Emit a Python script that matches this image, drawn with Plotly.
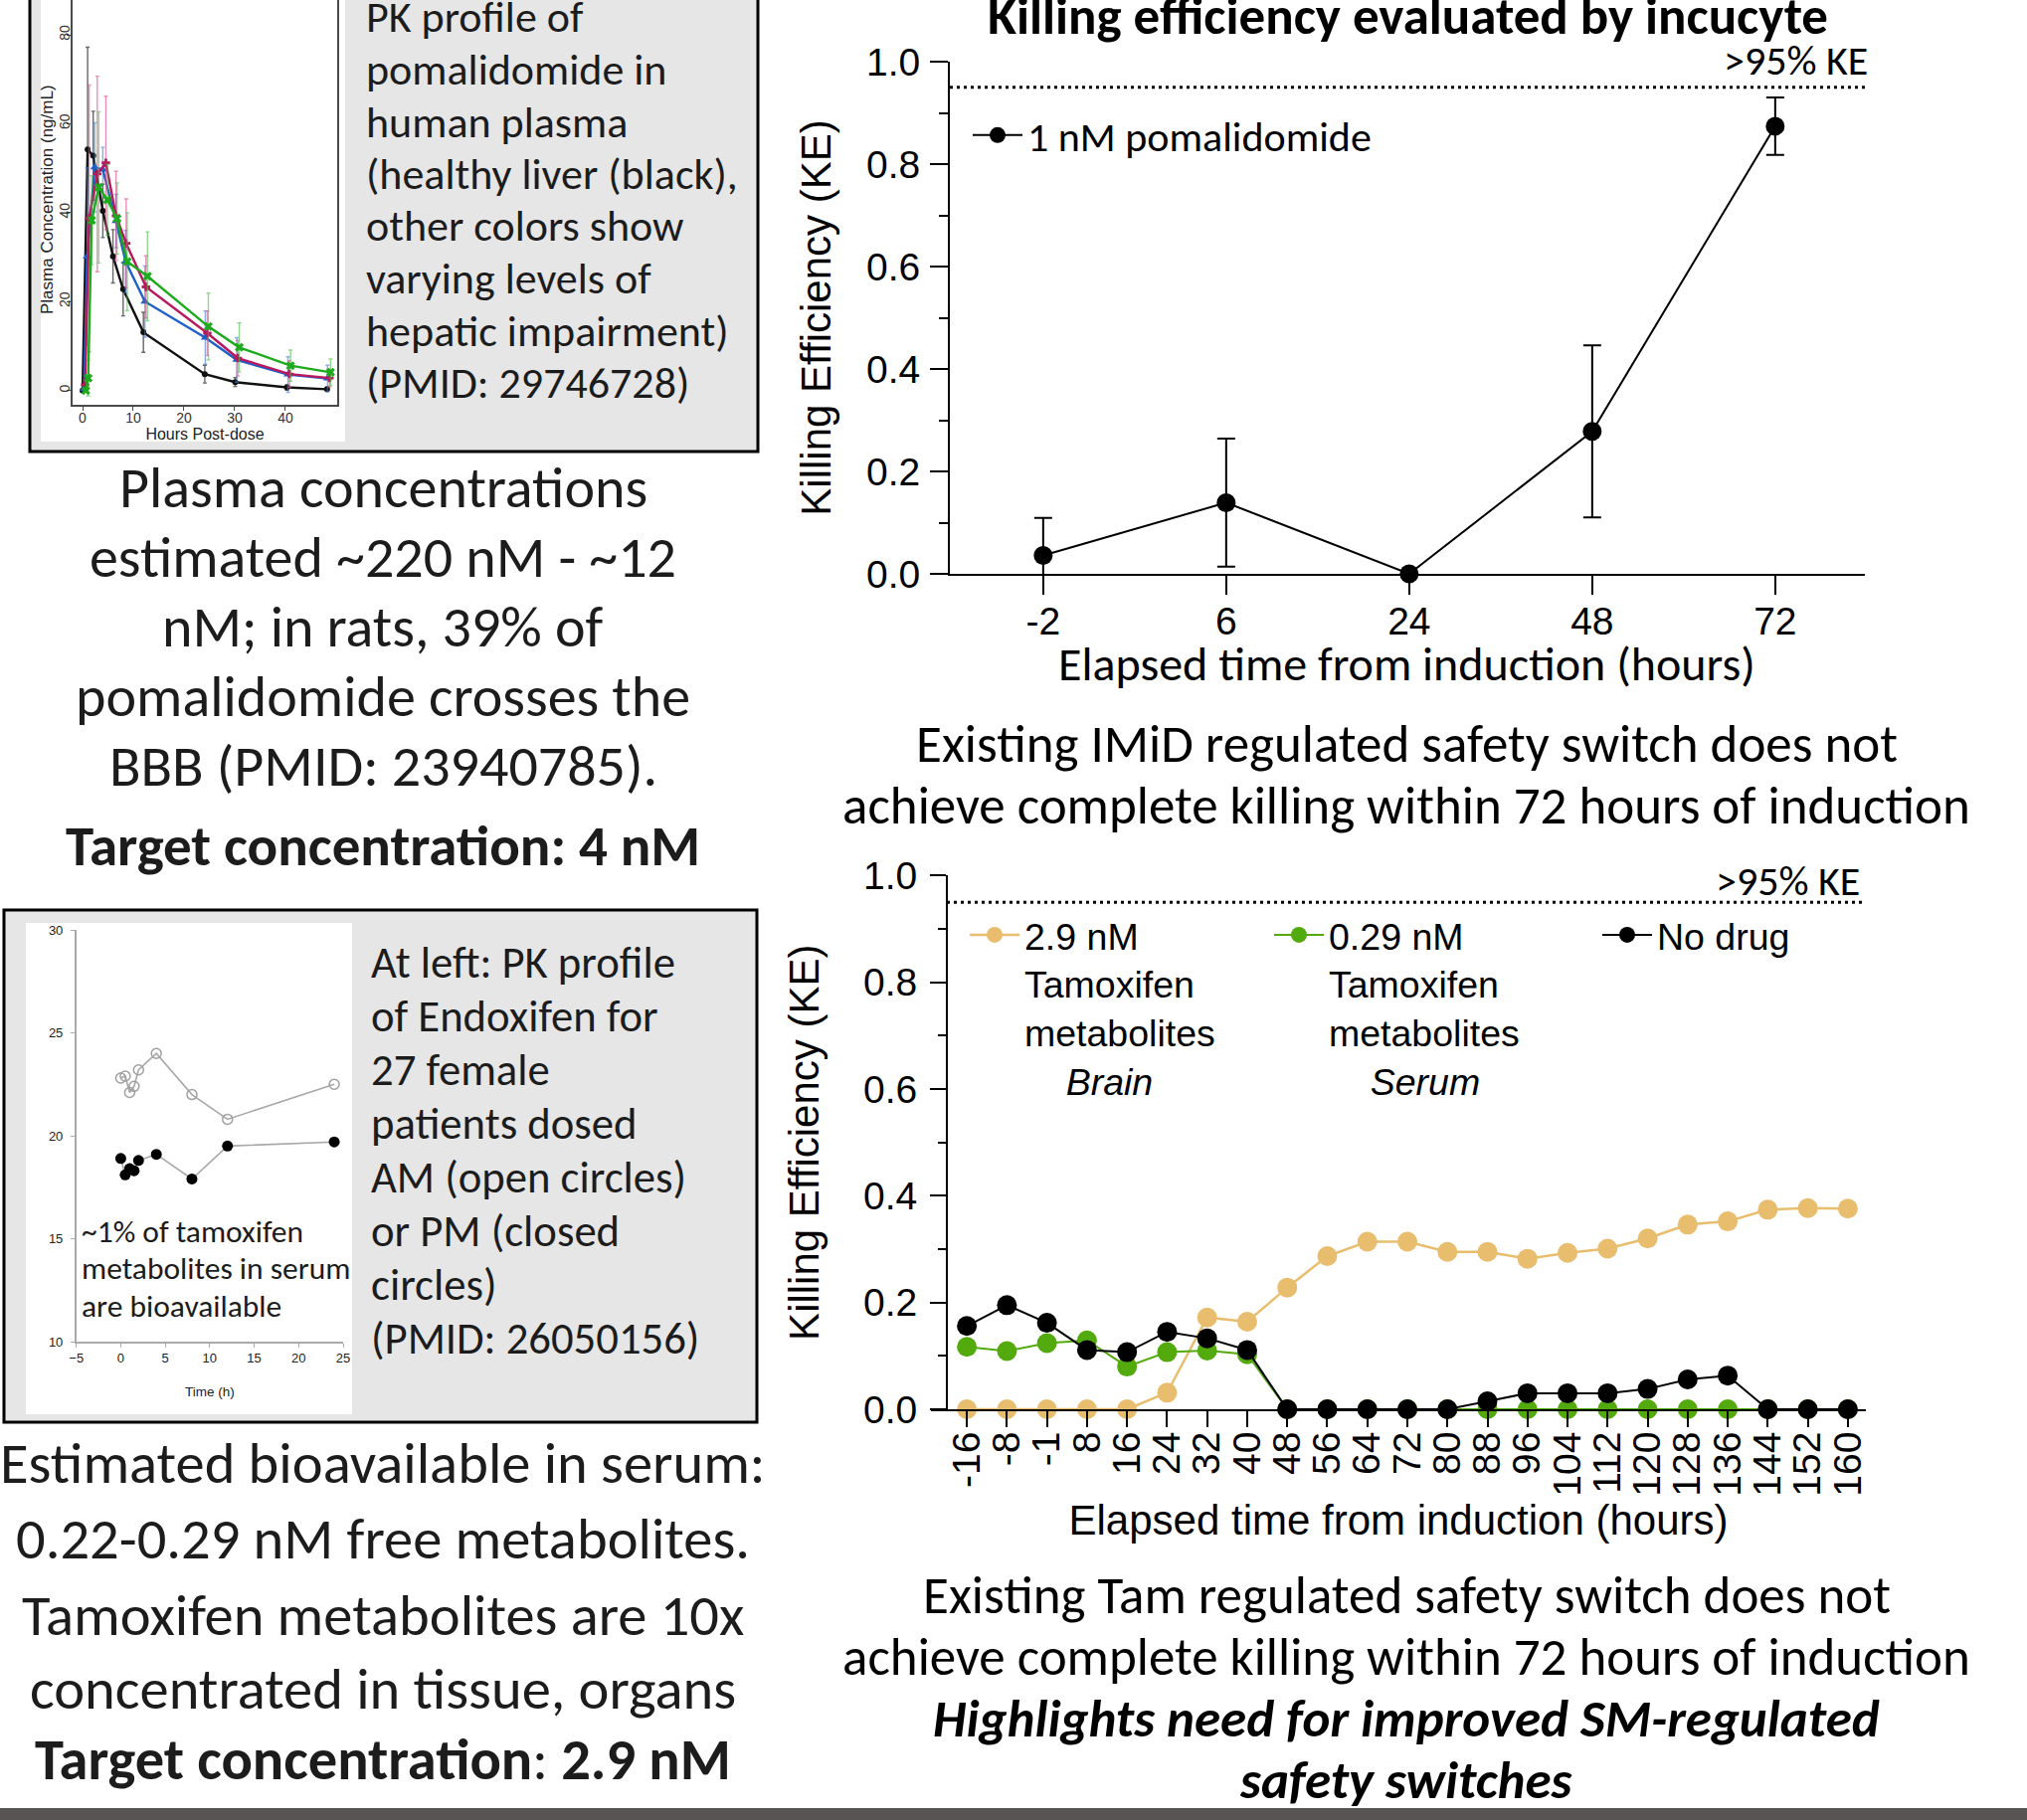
import plotly.graph_objects as go

W, H = 2038, 1830

# ---------------- data ----------------
# Inset 1: pomalidomide PK (hours post-dose, ng/mL) - four hepatic groups
pk_t_healthy = [0, 1, 2.1, 4, 6, 8, 12, 24.1, 30.1, 40.3, 48.2]
pk_c_healthy = [0, 54.2, 52.8, 40.4, 30.2, 22.8, 13.1, 3.7, 1.9, 0.7, 0.3]
pk_e_healthy = [0, 23, 10, 6, 6, 6, 4.5, 2, 1, 0.6, 0.4]

pk_t_mild = [0.3, 0.9, 2.4, 4.0, 6.6, 8.5, 12.3, 24.2, 30.4, 40.5, 48.3]
pk_c_mild = [0.4, 30.1, 50.2, 49.7, 38.1, 29.0, 20.0, 11.9, 6.9, 3.6, 2.7]
pk_e_mild = [0.5, 20, 10, 5, 6, 7, 8, 6, 5, 4, 3]

pk_t_moderate = [0.5, 1.3, 2.9, 4.6, 6.6, 8.6, 12.5, 24.6, 30.6, 40.8, 48.7]
pk_c_moderate = [1.3, 38.7, 48.7, 51.2, 39.3, 33.1, 23.3, 12.9, 7.3, 3.7, 2.8]
pk_e_moderate = [1, 30, 22, 15, 10, 10, 7, 5, 4, 3, 2]

pk_t_severe = [0.65, 1.1, 1.8, 3.2, 4.9, 6.8, 8.8, 12.8, 24.8, 30.9, 41, 48.9]
pk_c_severe = [0, 2.8, 38.3, 45.7, 42.9, 38.7, 29.0, 25.7, 14.4, 9.7, 5.6, 4.1]
pk_e_severe = [0.3, 4, 10, 17, 8, 8, 11, 10, 7.5, 5.5, 3.5, 3]

# Inset 2: endoxifen PK (time h)
endox_t = [0, 0.5, 1, 1.5, 2, 4, 8, 12, 24]
endox_am = [22.8, 22.9, 22.1, 22.4, 23.2, 24.0, 22.0, 20.8, 22.5]
endox_pm = [18.9, 18.1, 18.4, 18.3, 18.8, 19.1, 17.9, 19.5, 19.7]

# Top right: killing efficiency, 1 nM pomalidomide
top_hours = ["-2", "6", "24", "48", "72"]
top_ke = [0.036, 0.139, 0.0, 0.278, 0.874]
top_ke_err = [0.073, 0.125, 0.0, 0.168, 0.056]

# Bottom right: killing efficiency, tamoxifen metabolites
tam_hours = ["-16", "-8", "-1", "8", "16", "24", "32", "40", "48", "56", "64", "72",
             "80", "88", "96", "104", "112", "120", "128", "136", "144", "152", "160"]
ke_brain_2p9 = [0, 0, 0, 0, 0, 0.031, 0.172, 0.164, 0.228, 0.287, 0.314, 0.314,
                0.295, 0.295, 0.282, 0.293, 0.301, 0.32, 0.346, 0.352, 0.374, 0.377, 0.376]
ke_serum_0p29 = [0.117, 0.109, 0.124, 0.129, 0.08, 0.107, 0.11, 0.103, 0, 0, 0, 0,
                 0, 0, 0, 0, 0, 0, 0, 0, 0, 0, 0]
ke_no_drug = [0.156, 0.195, 0.162, 0.111, 0.107, 0.145, 0.133, 0.111, 0, 0, 0, 0,
              0, 0.015, 0.03, 0.03, 0.03, 0.038, 0.056, 0.063, 0, 0, 0]
ke_threshold = 0.95

# ---------------- text ----------------
box1_lines = ["PK profile of", "pomalidomide in", "human plasma", "(healthy liver (black),",
              "other colors show", "varying levels of", "hepatic impairment)", "(PMID: 29746728)"]
mid_left_lines = ["Plasma concentrations", "estimated ~220 nM - ~12", "nM; in rats, 39% of",
                  "pomalidomide crosses the", "BBB (PMID: 23940785)."]
mid_left_target = "<b>Target concentration: 4 nM</b>"
box2_lines = ["At left: PK profile", "of Endoxifen for", "27 female", "patients dosed",
              "AM (open circles)", "or PM (closed", "circles)", "(PMID: 26050156)"]
inset_note_lines = ["~1% of tamoxifen", "metabolites in serum", "are bioavailable"]
bottom_left_lines = ["Estimated bioavailable in serum:", "0.22-0.29 nM free metabolites.",
                     "Tamoxifen metabolites are 10x", "concentrated in tissue, organs",
                     "<b>Target concentration</b>: <b>2.9 nM</b>"]
right_mid_lines = ["Existing IMiD regulated safety switch does not",
                   "achieve complete killing within 72 hours of induction"]
right_bottom_lines = ["Existing Tam regulated safety switch does not",
                      "achieve complete killing within 72 hours of induction",
                      "<b><i>Highlights need for improved SM-regulated</i></b>",
                      "<b><i>safety switches</i></b>"]
top_title = "<b>Killing efficiency evaluated by incucyte</b>"
top_xtitle = "Elapsed time from induction (hours)"
inset1_ytitle = "Plasma Concentration (ng/mL)"

CAL = "Carlito, Calibri, Lato, sans-serif"
ARIAL = "Liberation Sans, Arial, Helvetica, sans-serif"
TXT = "#1c1c1c"


def px(x):
    return x / W


def py(y):
    return 1 - y / H


fig = go.Figure()

# ---- inset 1 traces ----
pk_sets = [
    (pk_t_healthy, pk_c_healthy, pk_e_healthy, "#111111", "rgba(40,40,40,0.7)", "circle", 6),
    (pk_t_mild, pk_c_mild, pk_e_mild, "#1f5fc8", "rgba(60,120,210,0.6)", "triangle-up", 8),
    (pk_t_moderate, pk_c_moderate, pk_e_moderate, "#b8185e", "rgba(220,70,140,0.6)", "cross", 7),
    (pk_t_severe, pk_c_severe, pk_e_severe, "#1daa1d", "rgba(70,190,70,0.6)", "x", 8),
]
for t, c, e, col, ecol, sym, ms in pk_sets:
    fig.add_trace(go.Scatter(
        x=t, y=c, mode="lines+markers", xaxis="x", yaxis="y", showlegend=False,
        line=dict(color=col, width=2.4), marker=dict(symbol=sym, size=ms, color=col),
        error_y=dict(type="data", array=e, color=ecol, thickness=1.4, width=2),
        cliponaxis=False))

# ---- inset 2 traces ----
fig.add_trace(go.Scatter(
    x=endox_t, y=endox_am, mode="lines+markers", xaxis="x2", yaxis="y2", showlegend=False,
    line=dict(color="#a8a8a8", width=1.6),
    marker=dict(symbol="circle-open", size=10, color="#a0a0a0", line=dict(width=1.5))))
fig.add_trace(go.Scatter(
    x=endox_t, y=endox_pm, mode="lines+markers", xaxis="x2", yaxis="y2", showlegend=False,
    line=dict(color="#a8a8a8", width=1.6),
    marker=dict(symbol="circle", size=11, color="#000000")))

# ---- top right ----
fig.add_trace(go.Scatter(
    x=top_hours, y=top_ke, mode="lines+markers", xaxis="x3", yaxis="y3",
    name="1 nM pomalidomide", legend="legend",
    line=dict(color="black", width=2), marker=dict(size=19, color="black"),
    error_y=dict(type="data", array=top_ke_err, color="black", thickness=2, width=9),
    cliponaxis=False))

# ---- bottom right ----
NB = "\u00a0" * 4
fig.add_trace(go.Scatter(
    x=tam_hours, y=ke_brain_2p9, mode="lines+markers", xaxis="x4", yaxis="y4",
    name="2.9 nM<br>Tamoxifen<br>metabolites<br>" + NB + "<i>Brain</i>", legend="legend2",
    line=dict(color="#e8be6e", width=2.5), marker=dict(size=20, color="#e8be6e"),
    cliponaxis=False))
fig.add_trace(go.Scatter(
    x=tam_hours, y=ke_serum_0p29, mode="lines+markers", xaxis="x4", yaxis="y4",
    name="0.29 nM<br>Tamoxifen<br>metabolites<br>" + NB + "<i>Serum</i>", legend="legend3",
    line=dict(color="#52aa0c", width=2), marker=dict(size=20, color="#52aa0c"),
    cliponaxis=False))
fig.add_trace(go.Scatter(
    x=tam_hours, y=ke_no_drug, mode="lines+markers", xaxis="x4", yaxis="y4",
    name="No drug", legend="legend4",
    line=dict(color="black", width=2), marker=dict(size=20, color="black"),
    cliponaxis=False))

# ---------------- shapes ----------------
shapes = [
    dict(type="rect", xref="paper", yref="paper", x0=px(30), x1=px(762), y0=py(454), y1=py(-6),
         fillcolor="#e6e6e6", line=dict(color="black", width=3), layer="below"),
    dict(type="rect", xref="paper", yref="paper", x0=px(41), x1=px(347), y0=py(444), y1=py(-2),
         fillcolor="white", line=dict(width=0), layer="below"),
    dict(type="rect", xref="paper", yref="paper", x0=px(4), x1=px(761), y0=py(1430), y1=py(915),
         fillcolor="#e6e6e6", line=dict(color="black", width=3), layer="below"),
    dict(type="rect", xref="paper", yref="paper", x0=px(26), x1=px(354), y0=py(1422), y1=py(928),
         fillcolor="white", line=dict(width=0), layer="below"),
    dict(type="rect", xref="paper", yref="paper", x0=0, x1=1, y0=py(1831), y1=py(1818),
         fillcolor="#585454", line=dict(width=0), layer="below"),
    dict(type="line", xref="x3 domain", yref="y3", x0=0, x1=1, y0=ke_threshold, y1=ke_threshold,
         line=dict(color="black", width=3, dash="3px,4px")),
    dict(type="line", xref="x4 domain", yref="y4", x0=0.017, x1=1, y0=ke_threshold, y1=ke_threshold,
         line=dict(color="black", width=3, dash="3px,4px")),
]

# ---------------- annotations ----------------
ann = []


def add_lines(lines, x, ys, size, family=CAL, xanchor="left", color=TXT, angle=0):
    for line, y in zip(lines, ys):
        ann.append(dict(text=line, x=px(x), y=py(y), xref="paper", yref="paper",
                        xanchor=xanchor, yanchor="middle", showarrow=False, textangle=angle,
                        font=dict(family=family, size=size, color=color)))


add_lines(box1_lines, 366, [17.5 + 52.5 * i for i in range(8)], 44)
add_lines(mid_left_lines, 385, [491 + 69.9 * i for i in range(5)], 58, xanchor="center")
add_lines([mid_left_target], 385, [851], 57, xanchor="center")
add_lines(box2_lines, 371, [967 + 54.1 * i for i in range(8)], 44.7)
add_lines(inset_note_lines, 80, [1237.5, 1275, 1312.5], 31.5)
add_lines(bottom_left_lines, 385, [1471, 1547, 1624, 1698, 1769], 58.5, xanchor="center")
add_lines(right_mid_lines, 1414, [748, 810], 53, xanchor="center", color="black")
add_lines(right_bottom_lines, 1414, [1604, 1666, 1728, 1790], 53, xanchor="center", color="black")
add_lines([top_title], 1415, [16], 53, xanchor="center", color="black")
add_lines([top_xtitle], 1414, [667], 48, xanchor="center", color="black")
add_lines([">95% KE"], 1880, [61], 42, xanchor="right", color="black")
add_lines([">95% KE"], 1872, [885], 42, xanchor="right", color="black")
add_lines([inset1_ytitle], 48, [201], 17, family=ARIAL, xanchor="center", color="#222", angle=-90)

# ---------------- axes ----------------
inset_tick = dict(family=ARIAL, size=14, color="#333333")
ke_tick = dict(family=ARIAL, size=39, color="black")
LEG_W = 50

layout = dict(
    width=W, height=H, margin=dict(l=0, r=0, t=0, b=0, pad=0), autosize=False,
    paper_bgcolor="white", plot_bgcolor="rgba(0,0,0,0)",
    shapes=shapes, annotations=ann,
    # inset 1
    xaxis=dict(domain=[px(73), px(339)], range=[-1.96, 50.2], anchor="y", automargin=False,
               showline=True, linecolor="#4a4a4a", linewidth=1.5, mirror=False,
               ticks="outside", ticklen=4, tickcolor="#4a4a4a", tickvals=[0, 10, 20, 30, 40],
               tickfont=inset_tick, showgrid=False, zeroline=False, ticklabelstandoff=-5,
               title=dict(text="Hours Post-dose", font=dict(family=ARIAL, size=16, color="#222"),
                          standoff=0)),
    yaxis=dict(domain=[py(407), 1], range=[-3.2, 87.83], anchor="x", automargin=False,
               showline=True, linecolor="#4a4a4a", linewidth=1.5, mirror=True,
               ticks="outside", ticklen=4, tickcolor="#4a4a4a", tickvals=[0, 20, 40, 60, 80],
               tickangle=-90, tickfont=inset_tick, showgrid=False, zeroline=False,
               ticklabelstandoff=-8),
    # inset 2
    xaxis2=dict(domain=[px(76.7), px(345)], range=[-5, 25], anchor="y2", automargin=False,
                showline=True, linecolor="#aaaaaa", linewidth=1.5,
                ticks="outside", ticklen=4, tickcolor="#aaaaaa", dtick=5, tick0=-5,
                tickfont=dict(family=ARIAL, size=13, color="#222"), showgrid=False, zeroline=False,
                title=dict(text="Time (h)", font=dict(family=ARIAL, size=13.5, color="#222"),
                           standoff=22)),
    yaxis2=dict(domain=[py(1349), py(935)], range=[10, 30], anchor="x2", automargin=False,
                showline=True, linecolor="#aaaaaa", linewidth=1.5,
                ticks="outside", ticklen=4, tickcolor="#aaaaaa", dtick=5, tick0=10,
                tickfont=dict(family=ARIAL, size=13, color="#222"), showgrid=False, zeroline=False,
                ticklabelstandoff=5),
    # top right
    xaxis3=dict(domain=[px(955), px(1875)], anchor="y3", type="category", automargin=False,
                categoryorder="array", categoryarray=top_hours, range=[-0.51, 4.49],
                showline=True, linecolor="black", linewidth=2,
                ticks="outside", ticklen=19, tickwidth=2, tickcolor="black",
                tickfont=ke_tick, showgrid=False, zeroline=False, ticklabelstandoff=-7),
    yaxis3=dict(domain=[py(577), py(62)], anchor="x3", range=[0, 1.0], automargin=False,
                tickvals=[0, 0.2, 0.4, 0.6, 0.8, 1.0], tickformat=".1f",
                showline=True, linecolor="black", linewidth=2,
                ticks="outside", ticklen=18, tickwidth=2, tickcolor="black",
                minor=dict(dtick=0.1, tick0=0, ticks="outside", ticklen=9, tickwidth=2,
                           tickcolor="black", showgrid=False),
                tickfont=ke_tick, showgrid=False, zeroline=False, ticklabelstandoff=2,
                title=dict(text="Killing Efficiency (KE)",
                           font=dict(family=ARIAL, size=42, color="black"), standoff=22)),
    # bottom right
    xaxis4=dict(domain=[px(936), px(1876)], anchor="y4", type="category", automargin=False,
                categoryorder="array", categoryarray=tam_hours, range=[-0.897, 22.45],
                tickmode="array", tickvals=tam_hours, ticktext=tam_hours,
                showline=True, linecolor="black", linewidth=2,
                ticks="outside", ticklen=16, tickwidth=2, tickcolor="black", tickangle=-90,
                tickfont=ke_tick, showgrid=False, zeroline=False, ticklabelstandoff=-11,
                title=dict(text="Elapsed time from induction (hours)",
                           font=dict(family=ARIAL, size=42, color="black"), standoff=2)),
    yaxis4=dict(domain=[py(1417), py(880.4)], anchor="free", position=px(952), range=[0, 1.0],
                automargin=False,
                tickvals=[0, 0.2, 0.4, 0.6, 0.8, 1.0], tickformat=".1f",
                showline=True, linecolor="black", linewidth=2,
                ticks="outside", ticklen=16, tickwidth=2, tickcolor="black",
                minor=dict(dtick=0.1, tick0=0, ticks="outside", ticklen=8, tickwidth=2,
                           tickcolor="black", showgrid=False),
                tickfont=ke_tick, showgrid=False, zeroline=False, ticklabelstandoff=5,
                title=dict(text="Killing Efficiency (KE)",
                           font=dict(family=ARIAL, size=42, color="black"), standoff=30)),
    legend=dict(x=px(1033 - LEG_W - 10), y=py(102), xanchor="left", yanchor="top",
                bgcolor="rgba(0,0,0,0)", borderwidth=0,
                font=dict(family=CAL, size=42, color="black"), itemwidth=LEG_W, valign="top"),
    legend2=dict(x=px(1030 - LEG_W - 10), y=py(909), xanchor="left", yanchor="top",
                 bgcolor="rgba(0,0,0,0)", borderwidth=0,
                 font=dict(family=ARIAL, size=37.5, color="black"), itemwidth=LEG_W, valign="top"),
    legend3=dict(x=px(1336 - LEG_W - 10), y=py(909), xanchor="left", yanchor="top",
                 bgcolor="rgba(0,0,0,0)", borderwidth=0,
                 font=dict(family=ARIAL, size=37.5, color="black"), itemwidth=LEG_W, valign="top"),
    legend4=dict(x=px(1666 - LEG_W - 10), y=py(909), xanchor="left", yanchor="top",
                 bgcolor="rgba(0,0,0,0)", borderwidth=0,
                 font=dict(family=ARIAL, size=37.5, color="black"), itemwidth=LEG_W, valign="top"),
)
fig.update_layout(**layout)
fig.write_html("out.html", config={"displayModeBar": False},
               post_script="document.body.style.margin='0px';document.body.style.overflow='hidden';")
